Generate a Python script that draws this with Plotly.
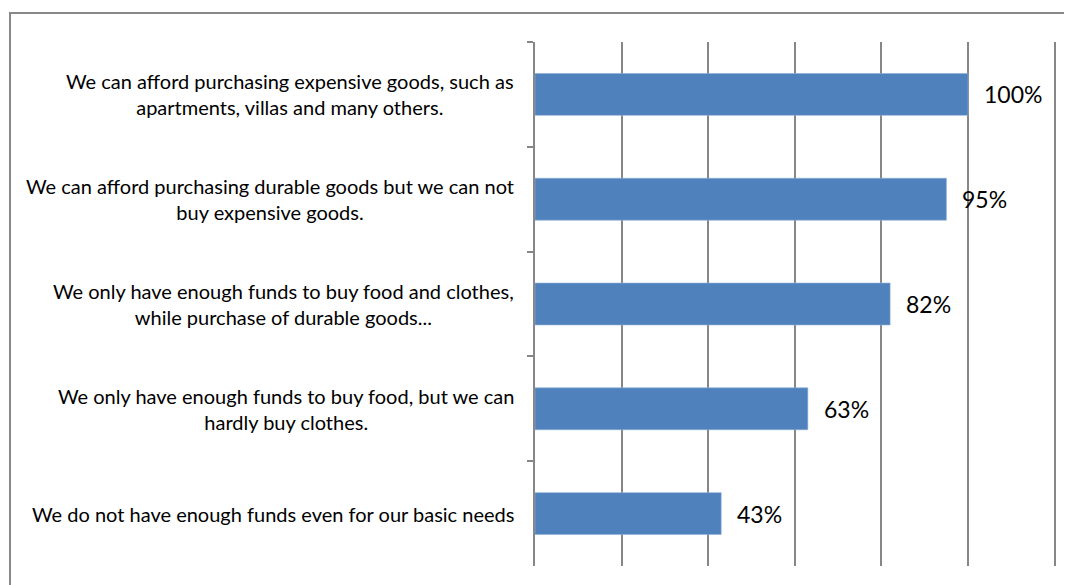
import plotly.graph_objects as go

categories = [
    "We can afford purchasing expensive goods, such as\napartments, villas and many others.",
    "We can afford purchasing durable goods but we can not\nbuy expensive goods.",
    "We only have enough funds to buy food and clothes,\nwhile purchase of durable goods...",
    "We only have enough funds to buy food, but we can\nhardly buy clothes.",
    "We do not have enough funds even for our basic needs",
]
values = [100, 95, 82, 63, 43]
value_labels = ["100%", "95%", "82%", "63%", "43%"]

OFF = 8  # page body margin
W, H = 1064, 577
L, R, T, B = 535 - OFF, 13, 42 - OFF, 19
pw, ph = W - L - R, H - T - B

def px_x(px):
    return (px - OFF - L) / pw

def px_y(py):
    return 1 - (py - OFF - T) / ph

FONT = "Lato, Carlito, sans-serif"
GRID = "#878787"

fig = go.Figure()
fig.add_trace(go.Bar(
    x=values, y=categories, orientation="h",
    marker=dict(color="#4F81BD", line=dict(color="#8FB0D8", width=0.6)),
    width=0.4, hoverinfo="skip",
))

annotations = []
for c in categories:
    annotations.append(dict(
        xref="paper", yref="y", x=px_x(516), y=c, xanchor="right", yanchor="middle",
        text=c.replace("\n", "<br>"), showarrow=False, align="center",
        font=dict(family=FONT, size=20, color="#000000"),
    ))
for c, v, t in zip(categories, values, value_labels):
    annotations.append(dict(
        xref="x", yref="y", x=v, y=c, xanchor="left", yanchor="middle",
        xshift=14, text=t, showarrow=False,
        font=dict(family=FONT, size=23, color="#000000"),
    ))

fig.update_layout(
    width=W, height=H,
    margin=dict(l=L, r=R, t=T, b=B),
    paper_bgcolor="white", plot_bgcolor="white",
    showlegend=False,
    annotations=annotations,
    shapes=[dict(
        type="rect", xref="paper", yref="paper",
        x0=px_x(10), x1=px_x(1100), y0=px_y(620), y1=px_y(13),
        line=dict(color="#888888", width=2), fillcolor="rgba(0,0,0,0)", layer="below",
    )],
    xaxis=dict(
        range=[0, 121], dtick=20, tick0=0, showticklabels=False,
        showgrid=True, gridcolor=GRID, gridwidth=1.5,
        zeroline=False, showline=False, ticks="", fixedrange=True,
    ),
    yaxis=dict(
        autorange="reversed", type="category", showticklabels=False,
        showline=True, linecolor=GRID, linewidth=1.5,
        ticks="outside", ticklen=6, tickcolor=GRID, tickwidth=1.5,
        tickson="boundaries", showgrid=False, zeroline=False,
    ),
)

fig.write_html("out.html")
